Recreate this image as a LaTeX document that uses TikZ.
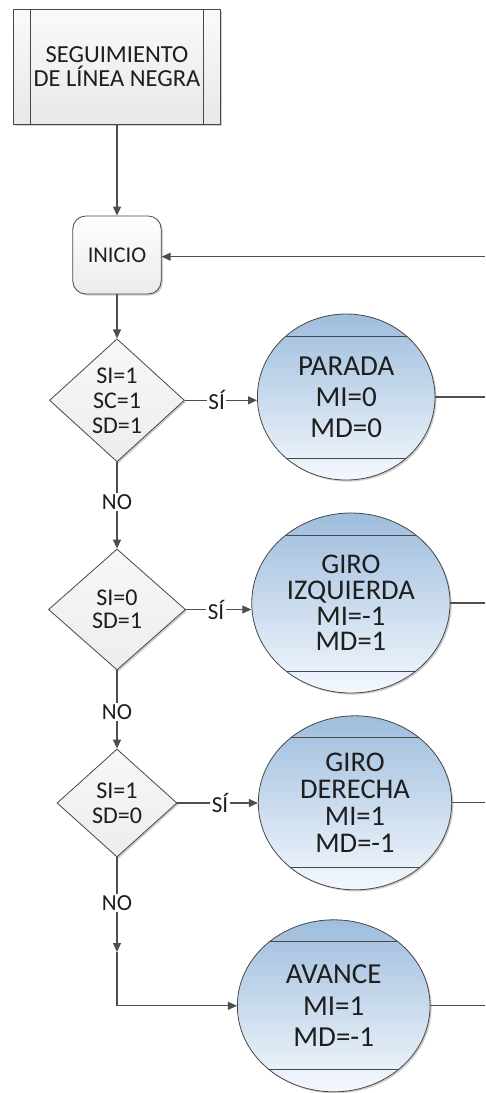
\documentclass[tikz,border=0pt]{standalone}
\usepackage{fontspec}
\setmainfont{Carlito}
\usetikzlibrary{arrows.meta,shapes.geometric,shadows}

\definecolor{linegray}{RGB}{78,78,78}
\definecolor{edgegray}{RGB}{72,72,72}
\definecolor{txt}{RGB}{30,30,30}
\definecolor{bluetop}{RGB}{158,189,221}
\definecolor{bluebot}{RGB}{244,248,253}

\begin{document}
\begin{tikzpicture}[x=1pt, y=-1pt,
  softshadow/.style={drop shadow={opacity=0.28, shadow xshift=1.6pt, shadow yshift=-1.6pt, fill=black!70}},
  conn/.style={draw=linegray, line width=1.2pt},
  arr/.style={-{Triangle[length=9pt,width=8pt]}},
  subbox/.style={rectangle, draw=edgegray, line width=0.8pt,
    top color=gray!4, bottom color=gray!18,
    minimum width=207.7pt, minimum height=114.7pt, inner sep=0pt,
    align=center, text=txt, font=\fontsize{24.5}{23.5}\selectfont, softshadow,
    path picture={
      \draw[edgegray, line width=0.8pt]
        ([xshift=17pt]path picture bounding box.north west) -- ([xshift=17pt]path picture bounding box.south west)
        ([xshift=-17pt]path picture bounding box.north east) -- ([xshift=-17pt]path picture bounding box.south east);
    }},
  startbox/.style={rectangle, rounded corners=13pt, draw=edgegray, line width=0.8pt,
    top color=white, bottom color=gray!16,
    minimum width=88.4pt, minimum height=78pt, inner sep=0pt,
    text=txt, font=\fontsize{22.5}{26}\selectfont, softshadow},
  decision/.style={diamond, draw=edgegray, line width=0.8pt,
    top color=gray!6, bottom color=gray!14, inner sep=0pt,
    align=center, text=txt, softshadow},
  statebox/.style={ellipse, draw=edgegray, line width=0.8pt,
    top color=bluetop, bottom color=bluebot, inner sep=0pt,
    align=center, text=txt, softshadow,
    path picture={
      \draw[edgegray, line width=0.9pt]
        ([yshift=-22pt]path picture bounding box.north west) -- ([yshift=-22pt]path picture bounding box.north east)
        ([yshift=22pt]path picture bounding box.south west) -- ([yshift=22pt]path picture bounding box.south east);
    }},
  lbl/.style={fill=white, inner sep=1.5pt, text=txt, font=\fontsize{23}{24}\selectfont}
]
\useasboundingbox (0,0) rectangle (485,1093);

% process blocks
\node[subbox] (sub) at (117,66.7) {SEGUIMIENTO\\DE LÍNEA NEGRA};
\node[startbox] (inicio) at (117,255) {INICIO};

% decisions
\node[decision, minimum width=135pt, minimum height=123pt,
      font=\fontsize{24}{25}\selectfont] (d1) at (117,400.3) {SI=1\\SC=1\\SD=1};
\node[decision, minimum width=137pt, minimum height=121pt,
      font=\fontsize{24}{23.5}\selectfont] (d2) at (117,609.5) {SI=0\\SD=1};
\node[decision, minimum width=120pt, minimum height=108pt,
      font=\fontsize{24}{25}\selectfont] (d3) at (117,803) {SI=1\\SD=0};

% motor states
\node[statebox, minimum width=177.6pt, minimum height=166pt,
      font=\fontsize{29}{31}\selectfont] (c1) at (346.2,397) {PARADA\\MI=0\\MD=0};
\node[statebox, minimum width=198.3pt, minimum height=180pt,
      font=\fontsize{28.5}{25.7}\selectfont] (c2) at (350.9,603) {GIRO\\IZQUIERDA\\MI=-1\\MD=1};
\node[statebox, minimum width=193.4pt, minimum height=174pt,
      font=\fontsize{28.5}{27}\selectfont] (c3) at (355,802.8) {GIRO\\DERECHA\\MI=1\\MD=-1};
\node[statebox, minimum width=192.7pt, minimum height=172pt,
      font=\fontsize{29}{31.5}\selectfont] (c4) at (333.7,1005.8) {AVANCE\\MI=1\\MD=-1};

% loose ends at the right margin
\coordinate (back) at (485,256.7);
\coordinate (rim) at (485,0);
\coordinate (mid) at (117,952);

% main flow
\draw[conn, arr] (sub.south) -- (inicio.north);
\draw[conn, arr] (inicio.south) -- (d1.north);
\draw[conn, arr] (d1.south) -- node[lbl, pos=0.46] {NO} (d2.north);
\draw[conn, arr] (d2.south) -- node[lbl, pos=0.53] {NO} (d3.north);
\draw[conn, arr] (d3.south) -- node[lbl, pos=0.48] {NO} (mid);
\draw[conn, arr] (mid) -- (d3.south |- c4.west) -- (c4.west);

% yes branches
\draw[conn, arr] (d1.east) -- node[lbl, pos=0.44] {SÍ} (d1.east -| c1.west);
\draw[conn, arr] (d2.east) -- node[lbl, pos=0.46] {SÍ} (d2.east -| c2.west);
\draw[conn, arr] (d3.east) -- node[lbl, pos=0.53] {SÍ} (d3.east -| c3.west);

% returns towards the loop
\draw[conn] (c1.east) -- (c1.east -| rim);
\draw[conn] (c2.east) -- (c2.east -| rim);
\draw[conn] (c3.east) -- (c3.east -| rim);
\draw[conn] (c4.east) -- (c4.east -| rim);
\draw[conn, arr] (back) -- (back -| inicio.east);
\end{tikzpicture}
\end{document}
